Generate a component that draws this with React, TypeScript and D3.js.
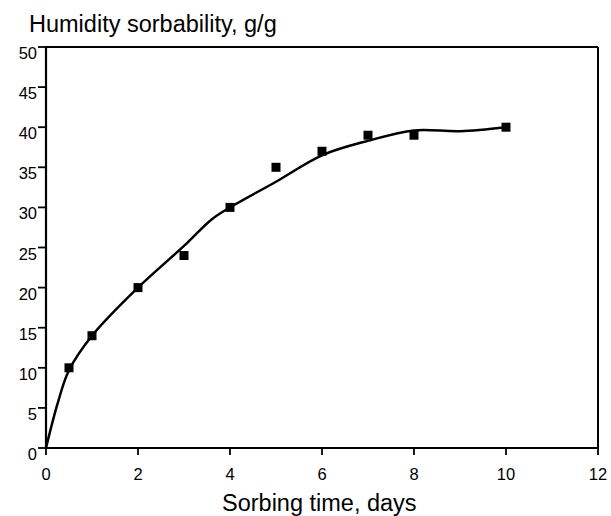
import React from "react";
import * as d3 from "d3";

const pointX = [0.5, 1, 2, 3, 4, 5, 6, 7, 8, 10];
const pointY = [10, 14, 20, 24, 30, 35, 37, 39, 39, 40];

const curveX = [0, 0.25, 0.5, 1, 2, 3, 3.6, 4, 5, 6, 7, 8, 9, 10];
const curveY = [0, 5.5, 9.7, 14, 20, 25.2, 28.5, 30, 33.2, 36.5, 38.3, 39.6, 39.5, 40];

const xTicks = [0, 2, 4, 6, 8, 10, 12];
const yTicks = [0, 5, 10, 15, 20, 25, 30, 35, 40, 45, 50];

const yTitle = "Humidity sorbability, g/g";
const xTitle = "Sorbing time, days";

export default function App() {
  const W = 611, H = 516;
  const left = 46, right = 598, top = 47, bottom = 448;
  const x = d3.scaleLinear().domain([0, 12]).range([left, right]);
  const y = d3.scaleLinear().domain([0, 50]).range([bottom, top]);
  const line = d3
    .line<number>()
    .x((_, i) => x(curveX[i]))
    .y((d) => y(d))
    .curve(d3.curveCatmullRom.alpha(0.5));
  const font = "'Liberation Sans', Arial, sans-serif";
  const sq = 9;
  return (
    <svg
      width={W}
      height={H}
      style={{ position: "absolute", left: 0, top: 0, background: "#fff" }}
      fontFamily={font}
    >
      <rect x={0} y={0} width={W} height={H} fill="#fff" />
      {/* frame */}
      <line x1={left} y1={top} x2={right} y2={top} stroke="#000" strokeWidth={2} />
      <line x1={right} y1={top} x2={right} y2={bottom} stroke="#000" strokeWidth={2} />
      <line x1={left} y1={top - 1} x2={left} y2={bottom} stroke="#000" strokeWidth={2.2} />
      <line x1={left - 1} y1={bottom} x2={right + 1} y2={bottom} stroke="#000" strokeWidth={2.2} />
      {yTicks.map((t) => (
        <g key={"y" + t}>
          <line x1={left - 8} x2={left} y1={y(t)} y2={y(t)} stroke="#000" strokeWidth={1.8} />
          <text x={left - 9} y={y(t) + 12} textAnchor="end" fontSize={16.5}>
            {t}
          </text>
        </g>
      ))}
      {xTicks.map((t) => (
        <g key={"x" + t}>
          <line x1={x(t)} x2={x(t)} y1={bottom} y2={bottom + 7} stroke="#000" strokeWidth={1.8} />
          <text x={x(t)} y={480} textAnchor="middle" fontSize={16.5}>
            {t}
          </text>
        </g>
      ))}
      <path d={line(curveY) || ""} fill="none" stroke="#000" strokeWidth={2.5} strokeLinejoin="round" />
      {pointY.map((v, i) => (
        <rect
          key={"p" + i}
          x={x(pointX[i]) - sq / 2}
          y={y(v) - sq / 2}
          width={sq}
          height={sq}
          fill="#000"
        />
      ))}
      <text x={29} y={31.5} fontSize={23.5}>
        {yTitle}
      </text>
      <text x={222} y={510.5} fontSize={23.5}>
        {xTitle}
      </text>
    </svg>
  );
}
